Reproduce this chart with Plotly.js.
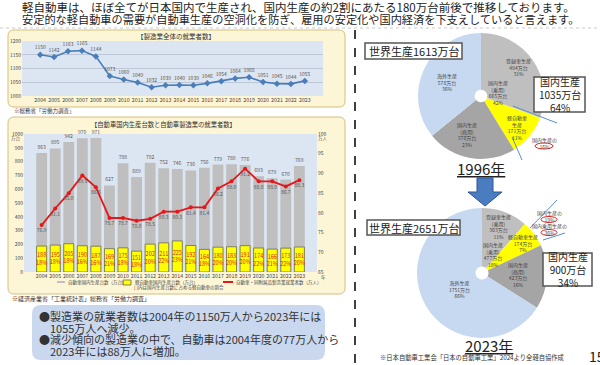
<!DOCTYPE html>
<html><head><meta charset="utf-8">
<script src="https://cdn.plot.ly/plotly-3.0.1.min.js"></script>
<style>html,body{margin:0;padding:0;background:#fff}#chart{width:600px;height:365px}</style>
</head><body><div id="chart"></div>
<script>
const years = ['2004','2005','2006','2007','2008','2009','2010','2011','2012','2013','2014','2015','2016','2017','2018','2019','2020','2021','2022','2023'];
const mfgWorkers = [1150,1142,1163,1165,1144,1073,1060,1049,1032,1039,1040,1039,1046,1054,1064,1068,1051,1045,1044,1055];
const autoProduction = [863,895,942,970,971,627,788,689,792,752,746,736,756,779,780,776,693,679,670,769];
const keiProduction = [188,195,205,190,187,169,175,151,202,211,225,192,164,180,183,191,174,166,173,181];
const keiShare = ['18%','18%','18%','16%','16%','21%','18%','18%','20%','22%','23%','21%','18%','20%','20%','20%','22%','21%','22%','20%'];
const autoWorkers = [76.9,81.1,85.0,89.5,86.5,78.7,78.7,78.0,78.5,80.3,80.3,81.4,81.4,86.2,88.0,91.2,88.0,88.0,86.7,88.3];
const pieLabels = ['登録車生産','軽自動車生産','国内生産(商用)','海外生産'];
const pieValues1996 = [494,171,370,578];
const pieValues2023 = [303,174,423,1751];

const F = '"Noto Sans CJK JP","Noto Sans",sans-serif';
const W = 600, H = 365;
const px = x => x / W, py = y => 1 - y / H;
const pieColors = ['#bfbfbf','#ffff00','#a5a5a5','#c6d9f1'];

const traces = [
  {type:'scatter', x:years, y:mfgWorkers, xaxis:'x', yaxis:'y', mode:'lines+markers+text',
   line:{color:'#4a7ebb', width:1.6}, marker:{symbol:'diamond', size:5, color:'#4a7ebb'},
   text:mfgWorkers.map(String), textposition:'top center', textfont:{family:F, size:5, color:'#555'},
   cliponaxis:false, hoverinfo:'skip'},
  {type:'bar', x:years, y:autoProduction, xaxis:'x2', yaxis:'y2', width:0.8,
   marker:{color:'#bfbfbf', line:{width:0}}, text:autoProduction.map(String), textposition:'outside',
   textfont:{family:F, size:5, color:'#555'}, cliponaxis:false, constraintext:'none', hoverinfo:'skip'},
  {type:'bar', x:years, y:keiProduction, xaxis:'x2', yaxis:'y2', width:0.74,
   marker:{color:'#ffff00', line:{color:'#6b6b50', width:0.8}},
   text:keiProduction.map((v,i)=>v+'<br>'+keiShare[i]), textposition:'inside', insidetextanchor:'middle',
   textangle:0, textfont:{family:F, size:5.5, color:'#e02020'}, constraintext:'none', hoverinfo:'skip'},
  {type:'scatter', x:years, y:autoWorkers, xaxis:'x2', yaxis:'y3', mode:'lines+markers+text',
   line:{color:'#e8161b', width:1.8}, marker:{color:'#e8161b', size:4},
   text:autoWorkers.map(v=>v.toFixed(1)), textposition:'bottom center',
   textfont:{family:F, size:5, color:'#555'}, cliponaxis:false, hoverinfo:'skip'},
  {type:'pie', labels:pieLabels, values:pieValues1996, sort:false, direction:'clockwise', rotation:0,
   hole:0.1, textinfo:'none', hoverinfo:'skip', marker:{colors:pieColors, line:{width:0}},
   domain:{x:[px(418),px(544)], y:[py(159),py(33)]}},
  {type:'pie', labels:pieLabels, values:pieValues2023, sort:false, direction:'clockwise', rotation:0,
   hole:0.1, textinfo:'none', hoverinfo:'skip', marker:{colors:pieColors, line:{width:0}},
   domain:{x:[px(417),px(547)], y:[py(338),py(208)]}}
];

function rrect(x0,y0,x1,y1,r){
  const X=px, Y=py;
  return `M${X(x0+r)},${Y(y0)} L${X(x1-r)},${Y(y0)} Q${X(x1)},${Y(y0)} ${X(x1)},${Y(y0+r)} L${X(x1)},${Y(y1-r)} Q${X(x1)},${Y(y1)} ${X(x1-r)},${Y(y1)} L${X(x0+r)},${Y(y1)} Q${X(x0)},${Y(y1)} ${X(x0)},${Y(y1-r)} L${X(x0)},${Y(y0+r)} Q${X(x0)},${Y(y0)} ${X(x0+r)},${Y(y0)} Z`;
}
function rect(x0,y0,x1,y1,fill,line,lw,layer){
  return {type:'rect', xref:'paper', yref:'paper', x0:px(x0), x1:px(x1), y0:py(y0), y1:py(y1),
    fillcolor:fill, line:{color:line||'rgba(0,0,0,0)', width:lw||0}, layer:layer||'below'};
}
function seg(x0,y0,x1,y1,color,w,dash,layer){
  return {type:'line', xref:'paper', yref:'paper', x0:px(x0), x1:px(x1), y0:py(y0), y1:py(y1),
    line:{color:color, width:w, dash:dash||'solid'}, layer:layer||'above'};
}
function ell(x0,y0,x1,y1){
  return {type:'circle', xref:'paper', yref:'paper', x0:px(x0), x1:px(x1), y0:py(y0), y1:py(y1),
    line:{color:'#e02020', width:1}, fillcolor:'rgba(0,0,0,0)', layer:'above'};
}
const shapes = [
  {type:'path', xref:'paper', yref:'paper', path:rrect(8,30,345,107,6), fillcolor:'#fdf6d6', line:{color:'#d4bf7e', width:1}, layer:'below'},
  rect(22,41,323,96,'#dce6f2'),
  {type:'path', xref:'paper', yref:'paper', path:rrect(8,117,345,294,6), fillcolor:'#fdf6d6', line:{color:'#d4bf7e', width:1}, layer:'below'},
  rect(24,134,317,272,'#dce6f2'),
  {type:'path', xref:'paper', yref:'paper', path:rrect(32,305,325,360,9), fillcolor:'#c9d8ee', line:{width:0}, layer:'below'},
  seg(0,28,600,28,'#bbbbbb',0.8,'dot','below'),
  seg(355,30,355,365,'#111',1.6,'dash','below'),
  seg(57,282,65,282,'#bfbfbf',2),
  rect(123,280,131,285,'#ffff00','#666',0.8,'above'),
  seg(223,282,233,282,'#e8161b',2),
  seg(513,106,557,123,'#5b8fc9',1),
  seg(512,137,522,160,'#5b8fc9',1),
  seg(530,228,557,200,'#5b8fc9',1),
  seg(543,240,565,233,'#5b8fc9',1),
  rect(365,43,462,59,'#fff','#555',1.5,'above'),
  rect(534,77,585,112,'#fff','#555',1.5,'above'),
  rect(367,220,460,235,'#fff','#555',1.5,'above'),
  rect(543,253,592,286,'#fff','#555',1.5,'above'),
  ell(535,143,553,149),
  ell(541,216.5,557,222.5),
  ell(541,229.5,557,235.5),
  {type:'path', xref:'paper', yref:'paper', layer:'above', fillcolor:'#4a7cc0', line:{color:'#2f5597', width:1},
   path:`M${px(477)},${py(178)} L${px(493)},${py(178)} L${px(493)},${py(192)} L${px(502)},${py(192)} L${px(485)},${py(206)} L${px(468)},${py(192)} L${px(477)},${py(192)} Z`}
];

function A(x,y,text,size,color,anchor,extra){
  return Object.assign({xref:'paper', yref:'paper', x:px(x), y:py(y), text:text, showarrow:false,
    xanchor:anchor||'center', yanchor:'middle', font:{family:F, size:size, color:color||'#333'}}, extra||{});
}
const sp = (s, t) => `<span style="font-size:${s}px">${t}</span>`;
const pc = '#444';
const annotations = [
  A(20,13, sp(11.5,'軽自動車は、ほぼ全てが日本国内で生産され、国内生産の約2割にあたる180万台前後で推移しております。') + '<br>' +
           sp(11.2,'安定的な軽自動車の需要が自動車生産の空洞化を防ぎ、雇用の安定化や国内経済を下支えしていると言えます。'),
    9.2,'#222','left',{align:'left'}),
  A(176,36,'【製造業全体の就業者数】',6.5,'#333'),
  A(12,111,'※総務省「労働力調査」',5.5,'#333','left'),
  A(163,124.5,'【自動車国内生産台数と自動車製造業の就業者数】',6.3,'#333'),
  A(16,138,'万台',4.5,'#555'),
  A(323,138,'万人',4.5,'#555'),
  A(319,277,'年',4.5,'#555','left'),
  A(66,282,'自動車国内生産台数（万台）',4.5,'#444','left'),
  A(133,282,'軽自動車国内生産台数（万台）',4.5,'#444','left'),
  A(234,282,'自動車・同附属品製造業就業者数（万人）',4.5,'#444','left'),
  A(132,287.5,'[ ]内は国内生産台数に占める軽自動車の割合',4.5,'#444','left'),
  A(10,298,'※経済産業省「工業統計表」総務省「労働力調査」',6,'#333','left'),
  A(37,333.2, sp(11,'●製造業の就業者数は2004年の1150万人から2023年には') + '<br>' +
              sp(11,'　1055万人へ減少。') + '<br>' +
              sp(11,'●減少傾向の製造業の中で、自動車は2004年度の77万人から') + '<br>' +
              sp(11,'　2023年には88万人に増加。'),
    8.85,'#333','left',{align:'left'}),
  A(413.5,51,'世界生産1613万台',11,'#222'),
  A(559.5,94.5,'国内生産<br>1035万台<br>64%',10,'#222',null,{align:'center'}),
  A(447,82,'海外生産<br>578万台<br>36%',5,pc),
  A(518,67,'登録車生産<br>494万台<br>31%',5,pc),
  A(498,92,'国内生産<br>(乗用)<br>665万台<br>42%',5,pc),
  A(517,127,'軽自動車<br>生産<br>171万台<br>11%',5,pc),
  A(467,135,'国内生産<br>(商用)<br>370万台<br>23%',5,pc),
  A(544,142.5,'国内生産の<br>16%',5,pc),
  A(481,168,'<u>1996年</u>',15,'#222'),
  A(413.5,227.5,'世界生産2651万台',11,'#222'),
  A(567.5,269.5,'国内生産<br>900万台<br>34%',10,'#222',null,{align:'center'}),
  A(498,226,'登録車生産<br>(乗用)<br>303万台<br>11%',5,pc),
  A(523,243,'軽自動車生産<br>174万台<br>7%',5,pc),
  A(493,254,'国内生産<br>(乗用)<br>477万台<br>18%',5,pc),
  A(518,274,'国内生産<br>(商用)<br>423万台<br>16%',5,pc),
  A(459,289,'海外生産<br>1751万台<br>66%',5,pc),
  A(549,222.8,'国内生産の<br>19%<br>国内乗用生産の<br>36%',5,pc),
  A(489,345,'<u>2023年</u>',15,'#222'),
  A(472,357,'※日本自動車工業会「日本の自動車工業」2024より全軽自協作成',6.3,'#333'),
  A(587,356,'15',14,'#222','left')
];

const axisBase = {showgrid:false, zeroline:false, showline:false, ticks:'', fixedrange:true};
const layout = {
  width:W, height:H, margin:{l:0,r:0,t:0,b:0}, paper_bgcolor:'#fff', plot_bgcolor:'rgba(0,0,0,0)',
  showlegend:false, font:{family:F, size:6, color:'#444'}, barmode:'overlay',
  xaxis:Object.assign({}, axisBase, {domain:[px(22),px(323)], anchor:'y', type:'category', tickangle:0, tickfont:{family:F,size:5.3,color:'#444'}}),
  yaxis:Object.assign({}, axisBase, {domain:[py(96),py(41)], anchor:'x', range:[1000,1200], dtick:50, showgrid:true, gridcolor:'#a9b3c1', gridwidth:0.6, tickfont:{family:F,size:5,color:'#444'}}),
  xaxis2:Object.assign({}, axisBase, {domain:[px(24),px(317)], anchor:'y2', type:'category', tickangle:0, tickfont:{family:F,size:5.3,color:'#444'}}),
  yaxis2:Object.assign({}, axisBase, {domain:[py(272),py(134)], anchor:'x2', range:[0,1000], dtick:100, tickfont:{family:F,size:5,color:'#444'}}),
  yaxis3:Object.assign({}, axisBase, {overlaying:'y2', side:'right', anchor:'x2', range:[65,100], dtick:5, tickfont:{family:F,size:5,color:'#444'}}),
  shapes:shapes, annotations:annotations
};
Plotly.newPlot('chart', traces, layout, {staticPlot:true, displayModeBar:false});
</script>
</body></html>
